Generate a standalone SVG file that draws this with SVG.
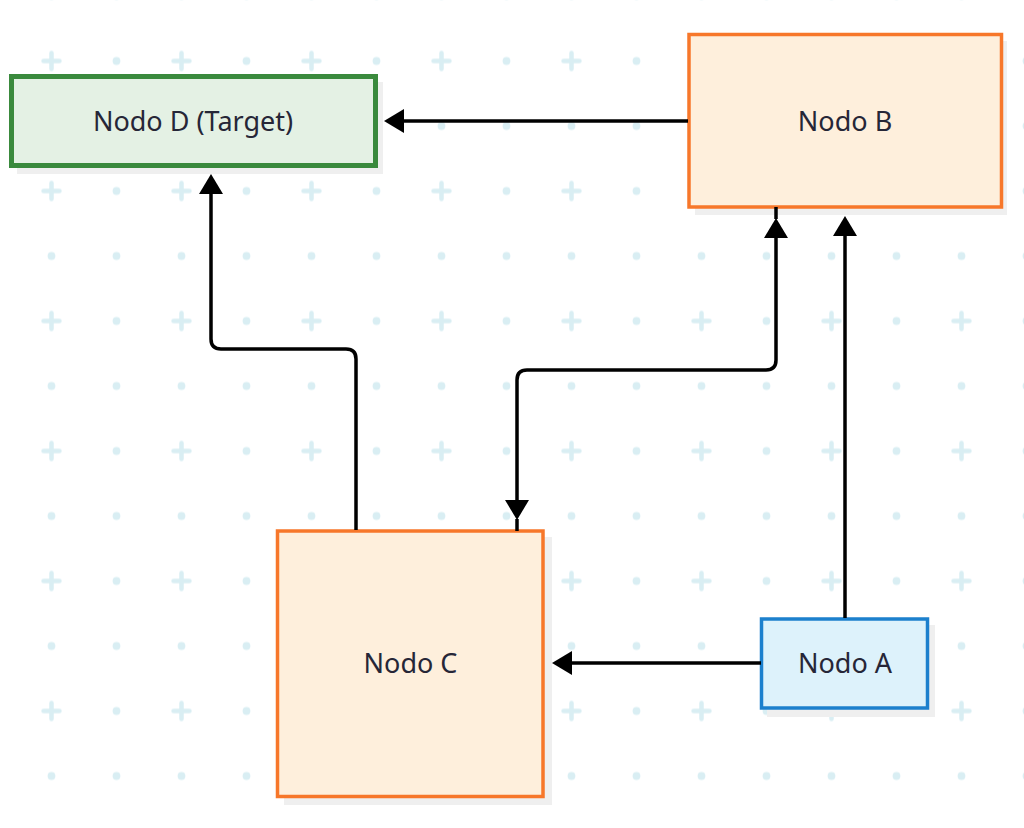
<svg xmlns="http://www.w3.org/2000/svg" width="1024" height="828" viewBox="0 0 1024 828">
  <defs>
    <pattern id="grid" patternUnits="userSpaceOnUse" x="19" y="28.5" width="130" height="130">
      <path d="M24.5,32.5 H40.5 M32.5,24.5 V40.5" stroke="#d9eef3" stroke-width="4.5" stroke-linecap="round" fill="none"/>
      <circle cx="97.5" cy="32.5" r="3.9" fill="#d9eef3"/>
      <circle cx="32.5" cy="97.5" r="3.9" fill="#d9eef3"/>
      <circle cx="97.5" cy="97.5" r="3.9" fill="#d9eef3"/>
    </pattern>
    <marker id="ah" viewBox="0 0 20 24" refX="16" refY="12" markerWidth="20" markerHeight="24" markerUnits="userSpaceOnUse" orient="auto-start-reverse">
      <path d="M0,0 L20,12 L0,24 z" fill="#000"/>
    </marker>
  </defs>
  <style>
    .shadow { fill: #efefef; }
    .orange { fill: #feefdc; stroke: #f7772a; stroke-width: 3.5; }
    .blue { fill: #ddf2fb; stroke: #1c80cd; stroke-width: 3.5; }
    .green { fill: #e4f1e4; stroke: #3a8a3d; stroke-width: 5; }
    .label { font-family: "Noto Sans", "Open Sans", sans-serif; font-size: 27px; fill: #262637; text-anchor: middle; }
    .edge { fill: none; stroke: #000; stroke-width: 3.5; }
  </style>
  <rect width="1024" height="828" fill="#ffffff"/>
  <rect width="1024" height="828" fill="url(#grid)"/>

  <g id="nodeD">
    <rect class="shadow" x="17" y="82" width="366" height="92"/>
    <rect class="green" x="11.5" y="76.5" width="364" height="89"/>
    <text class="label" x="193" y="131">Nodo D (Target)</text>
  </g>
  <g id="nodeB">
    <rect class="shadow" x="695" y="41" width="312" height="174"/>
    <rect class="orange" x="689" y="34.5" width="312.5" height="172.5"/>
    <text class="label" x="845" y="130.5">Nodo B</text>
  </g>
  <g id="nodeC">
    <rect class="shadow" x="284" y="537" width="268" height="268"/>
    <rect class="orange" x="277.5" y="531" width="265.5" height="265.5"/>
    <text class="label" x="410.5" y="673">Nodo C</text>
  </g>
  <g id="nodeA">
    <rect class="shadow" x="767" y="625" width="168" height="92"/>
    <rect class="blue" x="761.5" y="619" width="166" height="89"/>
    <text class="label" x="845" y="672.5">Nodo A</text>
  </g>

  <g id="connectors">
    <path class="edge" d="M688,121 H388" marker-end="url(#ah)"/>
    <path class="edge" d="M356,530 V359 Q356,349 346,349 H221 Q211,349 211,339 V178" marker-end="url(#ah)"/>
    <path class="edge" d="M776,207 V219"/>
    <path class="edge" d="M517,519 V531"/>
    <path class="edge" d="M517,516 V380 Q517,370 527,370 H766 Q776,370 776,360 V222" marker-start="url(#ah)" marker-end="url(#ah)"/>
    <path class="edge" d="M845,618 V220" marker-end="url(#ah)"/>
    <path class="edge" d="M761,663 H556" marker-end="url(#ah)"/>
  </g>
</svg>
